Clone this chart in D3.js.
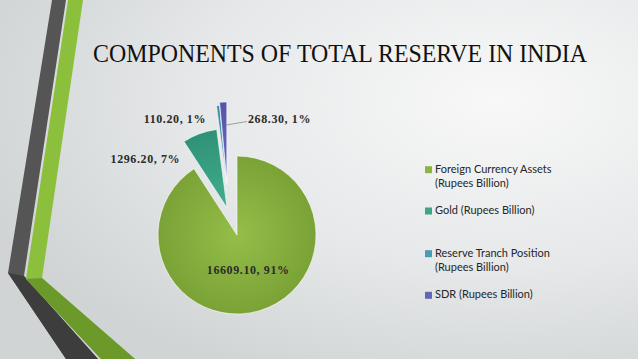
<!DOCTYPE html>
<html><head><meta charset="utf-8">
<script src="https://cdn.jsdelivr.net/npm/d3@7"></script>
<style>html,body{margin:0;padding:0;overflow:hidden;}</style>
</head><body>
<script>
// ---- data ----
const categories = ["Foreign Currency Assets (Rupees Billion)", "Gold (Rupees Billion)", "Reserve Tranch Position (Rupees Billion)", "SDR (Rupees Billion)"];
const legendLines = [["Foreign Currency Assets", "(Rupees Billion)"], ["Gold (Rupees Billion)"], ["Reserve Tranch Position", "(Rupees Billion)"], ["SDR (Rupees Billion)"]];
const values = [16609.10, 1296.20, 110.20, 268.30];
const title = "COMPONENTS OF TOTAL RESERVE IN INDIA";

// ---- style ----
const W = 638, H = 359;
const colors = ["#8cb445", "#3ea586", "#4a9bb5", "#6464b8"];
const colorsDark = ["#7aa236", "#2f9277", "#3b8aa4", "#5555a8"];
const explodeDist = [0, 29, 52, 55];
const explodeTilt = [0, 0, -5, -8]; // degrees
const labelShift = [[0, 1], [-68, -8], [-47.5, -22], [54.5, -18.5]];
const R = 79, cx = 237, cy = 235;

const svg = d3.select("body").append("svg").attr("width", W).attr("height", H);
const defs = svg.append("defs");
const bg = defs.append("radialGradient").attr("id", "bg").attr("cx", 0.78).attr("cy", 0.28).attr("r", 0.85);
bg.append("stop").attr("offset", 0).attr("stop-color", "#f8f8f8");
bg.append("stop").attr("offset", 0.55).attr("stop-color", "#e6e8e9");
bg.append("stop").attr("offset", 1).attr("stop-color", "#d0d4d5");
svg.append("rect").attr("width", W).attr("height", H).attr("fill", "url(#bg)");

// decorative stripes
const line = d3.line();
svg.append("path").attr("d", line([[52,0],[66,0],[24,276],[98,359],[66,359],[8,273]]) + "Z").attr("fill", "#555555");
svg.append("path").attr("d", line([[8,273],[24,276],[98,359],[66,359]]) + "Z").attr("fill", "#3d3d3d");
svg.append("path").attr("d", line([[68,0],[83,0],[42,278],[135,359],[101,359],[26,279]]) + "Z").attr("fill", "#8cc03c");
svg.append("path").attr("d", line([[26,279],[42,278],[135,359],[101,359]]) + "Z").attr("fill", "#6b9a2b");

// title
svg.append("text").attr("x", 93).attr("y", 62)
  .attr("font-family", "Liberation Serif, Times New Roman, serif").attr("font-size", 24.5)
  .attr("textLength", 494).attr("lengthAdjust", "spacingAndGlyphs")
  .attr("fill", "#111").text(title);

// gradients for slices
colors.forEach((c, i) => {
  const g = defs.append("radialGradient").attr("id", "g" + i)
    .attr("gradientUnits", "userSpaceOnUse").attr("cx", 0).attr("cy", 0).attr("r", R);
  g.append("stop").attr("offset", 0).attr("stop-color", d3.color(c).brighter(0.15));
  g.append("stop").attr("offset", 1).attr("stop-color", colorsDark[i]);
});

const total = d3.sum(values);
const pie = d3.pie().sort(null).value(d => d)(values);
const arc = d3.arc().innerRadius(0).outerRadius(R);
const gPie = svg.append("g").attr("transform", `translate(${cx},${cy})`);

function offset(d, i) {
  const a = (d.startAngle + d.endAngle) / 2 + explodeTilt[i] * Math.PI / 180;
  return [Math.sin(a) * explodeDist[i], -Math.cos(a) * explodeDist[i]];
}

pie.forEach((d, i) => {
  const [dx, dy] = offset(d, i);
  gPie.append("g").attr("transform", `translate(${dx},${dy})`)
    .append("path").attr("d", arc(d)).attr("fill", `url(#g${i})`)
    .attr("stroke", "#ffffff").attr("stroke-width", 0.6);
});

// labels
const fmt = d3.format(".2f");
pie.forEach((d, i) => {
  const [dx, dy] = offset(d, i);
  const c = arc.centroid(d);
  const x = c[0] + dx + labelShift[i][0], y = c[1] + dy + labelShift[i][1];
  const pct = Math.round(values[i] / total * 100);
  const t = gPie.append("text").attr("x", x).attr("y", y).attr("text-anchor", "middle")
    .attr("font-family", "Liberation Serif, Times New Roman, serif").attr("font-weight", "bold")
    .attr("font-size", 12).attr("letter-spacing", 0.6).attr("fill", "#2b2b2b")
    .text(`${fmt(values[i])}, ${pct}%`);
  if (i === 3) {
    const bb = t.node().getBBox();
    const mid = (d.startAngle + d.endAngle) / 2;
    const r0 = 56;
    gPie.append("line").attr("x1", dx + Math.sin(mid) * r0 + 2).attr("y1", dy - Math.cos(mid) * r0)
      .attr("x2", bb.x - 1).attr("y2", y - 1.5)
      .attr("stroke", "#8c8c8c").attr("stroke-width", 0.8);
  }
});

// legend
const legY = [172.7, 214, 256.7, 298.3];
const leg = svg.append("g");
legendLines.forEach((ls, i) => {
  leg.append("rect").attr("x", 425).attr("y", legY[i] - 6.5).attr("width", 7).attr("height", 7).attr("fill", colors[i]);
  ls.forEach((s, j) => {
    leg.append("text").attr("x", 435).attr("y", legY[i] + j * 14)
      .attr("font-family", "Lato, Open Sans, sans-serif").attr("font-size", 11)
      .attr("fill", "#262626").text(s);
  });
});
</script>
</body></html>
